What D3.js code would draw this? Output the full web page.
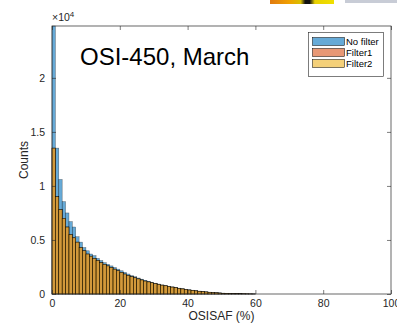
<!DOCTYPE html>
<html><head><meta charset="utf-8">
<script src="https://cdn.jsdelivr.net/npm/d3@7"></script>
<style>body{margin:0;background:#fff}svg{display:block}text{font-family:"Liberation Sans",Arial,sans-serif}</style>
</head><body>
<svg id="c" width="397" height="324"></svg>
<script>
// bin left edges: 0..59 (bin width 1 %)
const binStart = d3.range(0, 60);
const noFilter = [2.48,1.35,1.06,0.855,0.75,0.67,0.62,0.53,0.48,0.43,0.40,0.37,0.355,0.33,0.31,0.29,0.275,0.26,0.245,0.23,0.215,0.20,0.185,0.17,0.16,0.148,0.137,0.127,0.118,0.109,0.10,0.092,0.084,0.078,0.072,0.066,0.06,0.054,0.049,0.044,0.039,0.035,0.031,0.027,0.024,0.02,0.017,0.014,0.012,0.01,0.008,0.007,0.006,0.005,0.004,0.003,0.0025,0.002,0.0015,0.001];
const filter1 = [1.35,0.90,0.78,0.70,0.62,0.55,0.52,0.48,0.43,0.40,0.37,0.35,0.33,0.31,0.29,0.275,0.26,0.245,0.23,0.215,0.20,0.185,0.172,0.16,0.15,0.14,0.13,0.12,0.112,0.104,0.096,0.089,0.082,0.076,0.07,0.064,0.058,0.052,0.047,0.042,0.037,0.033,0.029,0.025,0.022,0.019,0.016,0.013,0.011,0.009,0.007,0.006,0.005,0.004,0.003,0.0025,0.002,0.0015,0.001,0.0005];
const filter2 = [1.35,0.90,0.78,0.70,0.62,0.55,0.52,0.48,0.43,0.40,0.37,0.35,0.33,0.31,0.29,0.275,0.26,0.245,0.23,0.215,0.20,0.185,0.172,0.16,0.15,0.14,0.13,0.12,0.112,0.104,0.096,0.089,0.082,0.076,0.07,0.064,0.058,0.052,0.047,0.042,0.037,0.033,0.029,0.025,0.022,0.019,0.016,0.013,0.011,0.009,0.007,0.006,0.005,0.004,0.003,0.0025,0.002,0.0015,0.001,0.0005];
const seriesNames = ["No filter","Filter1","Filter2"];
const seriesColors = ["#0072BD","#D95319","#EDB120"];
const xTicks = [0,20,40,60,80,100];
const yTicks = [0,0.5,1,1.5,2];
const title = "OSI-450, March";

const svg = d3.select("#c");
const L=52, R=391, T=26, B=294;
const x = d3.scaleLinear().domain([0,100]).range([L,R]);
const y = d3.scaleLinear().domain([0,d3.max(noFilter)]).range([B,T]);
const axisCol = "#262626";

// top cropped colorbar fragment
const grad = svg.append("defs").append("linearGradient").attr("id","cb");
[["0%","#e07a10"],["30%","#f0a000"],["48%","#d8c000"],["55%","#111"],["62%","#111"],["70%","#e8d000"],["100%","#f0e000"]].forEach(s=>grad.append("stop").attr("offset",s[0]).attr("stop-color",s[1]));
svg.append("rect").attr("x",270).attr("y",0).attr("width",64).attr("height",4).attr("fill","url(#cb)");
svg.append("rect").attr("x",345).attr("y",0).attr("width",52).attr("height",3).attr("fill","#c8ccd6");

const series = [noFilter, filter1, filter2];
series.forEach((vals,si)=>{
  svg.append("g").selectAll("rect").data(binStart).join("rect")
    .attr("x",d=>x(d)).attr("width",d=>x(d+1)-x(d))
    .attr("y",(d,i)=>y(vals[i])).attr("height",(d,i)=>B-y(vals[i]))
    .attr("fill",seriesColors[si]).attr("fill-opacity",0.6)
    .attr("stroke","#000").attr("stroke-width",0.5).attr("stroke-opacity",si===0?0.5:0.8);
});

// axes
const gx = svg.append("g").attr("transform",`translate(0,${B})`)
  .call(d3.axisBottom(x).tickValues(xTicks).tickSize(-4).tickPadding(6).tickFormat(d3.format("d")));
const gxt = svg.append("g").attr("transform",`translate(0,${T})`)
  .call(d3.axisTop(x).tickValues(xTicks).tickSize(-4).tickFormat(""));
const gy = svg.append("g").attr("transform",`translate(${L},0)`)
  .call(d3.axisLeft(y).tickValues(yTicks).tickSize(-4).tickPadding(7).tickFormat(d=>d===0?"0":String(d)));
const gyr = svg.append("g").attr("transform",`translate(${R},0)`)
  .call(d3.axisRight(y).tickValues(yTicks).tickSize(-4).tickFormat(""));
[gx,gxt,gy,gyr].forEach(g=>{
  g.select(".domain").remove();
  g.selectAll("line").attr("stroke",axisCol).attr("stroke-width",0.6);
  g.selectAll("text").attr("fill",axisCol).style("font-size","10.5px");
});
svg.append("rect").attr("x",L).attr("y",T).attr("width",R-L).attr("height",B-T)
  .attr("fill","none").attr("stroke",axisCol).attr("stroke-width",0.7);

// exponent
const ex = svg.append("text").attr("x",52).attr("y",21).attr("fill",axisCol).style("font-size","10.5px");
ex.append("tspan").text("×10");
ex.append("tspan").attr("dy",-4).style("font-size","8px").text("4");

// labels
svg.append("text").attr("x",(L+R)/2).attr("y",320).attr("text-anchor","middle").attr("fill",axisCol).style("font-size","12px").text("OSISAF (%)");
svg.append("text").attr("transform",`translate(28,${(T+B)/2}) rotate(-90)`).attr("text-anchor","middle").attr("fill",axisCol).style("font-size","12px").text("Counts");

// title inside
svg.append("text").attr("x",80).attr("y",65).attr("fill","#000").style("font-size","24px").text(title);

// legend
const lg = svg.append("g");
lg.append("rect").attr("x",308.5).attr("y",32.5).attr("width",75).attr("height",44).attr("fill","#fff").attr("stroke",axisCol).attr("stroke-width",0.6);
seriesNames.forEach((n,i)=>{
  const yy = 37.5 + i*11;
  lg.append("rect").attr("x",312.5).attr("y",yy).attr("width",32).attr("height",8)
    .attr("fill",seriesColors[i]).attr("fill-opacity",0.6).attr("stroke","#000").attr("stroke-width",0.5);
  lg.append("text").attr("x",346).attr("y",yy+7.5).attr("fill","#000").style("font-size","9.5px").text(n);
});
</script>
</body></html>
